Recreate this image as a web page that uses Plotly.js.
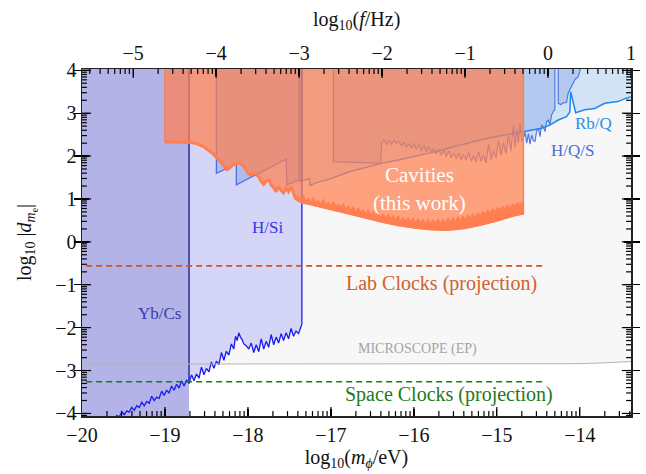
<!DOCTYPE html>
<html><head><meta charset="utf-8">
<script src="https://cdn.plot.ly/plotly-3.0.1.min.js"></script>
<style>html,body{margin:0;padding:0;background:#fff}</style>
</head><body><div id="chart" style="width:646px;height:474px"></div>
<script>
// ---------- axes ----------
const X_MIN = -20, X_MAX = -13.383, Y_MIN = -4.06, Y_MAX = 4.03;
const Y_TOP = 4.4, Y_BOT = -4.4;           // "unbounded" edges of excluded regions
const F_OFFSET = 14.3835;                   // log10(f/Hz) = log10(m/eV) + 14.3835
const xTicks = [-20, -19, -18, -17, -16, -15, -14];
const fTicks = [-5, -4, -3, -2, -1, 0, 1];
const yTicks = [-4, -3, -2, -1, 0, 1, 2, 3, 4];

// ---------- MICROSCOPE (EP) ----------
const msX = [-20, -14.3, -14.0, -13.7, -13.383];
const msY = [-2.85, -2.85, -2.84, -2.82, -2.79];

// ---------- Yb/Cs ----------
const ybcsEdge = -18.71;

// ---------- H/Si ----------
const hsiX = [-19.62,-19.58,-19.55,-19.52,-19.49,-19.46,-19.43,-19.40,-19.37,-19.34,-19.31,-19.28,-19.25,-19.22,-19.19,-19.16,-19.13,-19.10,-19.07,-19.04,-19.01,-18.98,-18.95,-18.92,-18.89,-18.86,-18.83,-18.80,-18.77,-18.74,-18.71,-18.68,-18.65,-18.62,-18.59,-18.56,-18.53,-18.50,-18.47,-18.44,-18.41,-18.38,-18.35,-18.32,-18.29,-18.26,-18.23,-18.20,-18.17,-18.15,-18.13,-18.11,-18.09,-18.07,-18.05,-18.02,-17.99,-17.96,-17.93,-17.90,-17.87,-17.84,-17.81,-17.78,-17.75,-17.72,-17.69,-17.66,-17.63,-17.60,-17.57,-17.54,-17.51,-17.48,-17.45,-17.42,-17.39,-17.36,-17.35];
const hsiY = [-4.12,-4.05,-4.08,-3.96,-4.03,-3.94,-3.97,-3.86,-3.93,-3.82,-3.86,-3.74,-3.82,-3.72,-3.76,-3.60,-3.70,-3.62,-3.65,-3.48,-3.58,-3.46,-3.52,-3.36,-3.46,-3.32,-3.41,-3.24,-3.36,-3.22,-3.30,-3.10,-3.24,-3.08,-3.18,-2.92,-3.10,-2.95,-3.03,-2.80,-2.95,-2.78,-2.86,-2.58,-2.76,-2.55,-2.64,-2.38,-2.50,-2.20,-2.30,-2.12,-2.22,-2.28,-2.38,-2.42,-2.50,-2.36,-2.58,-2.40,-2.56,-2.26,-2.50,-2.32,-2.46,-2.16,-2.40,-2.22,-2.36,-2.14,-2.30,-2.12,-2.26,-2.02,-2.20,-2.08,-2.14,-1.98,-1.92];

// ---------- H/Q/S ----------
const hqsAX = [-18.38,-18.38,-18.14,-18.14,-17.54,-17.53,-17.35,-17.35];
const hqsAY = [Y_TOP, 1.60, 1.82, 1.33, 1.93, 1.33, 1.47, Y_TOP];
const hqsBX = [-16.97,-16.97,-16.40,-16.39,-16.36,-16.33,-16.30,-16.27,-16.24,-16.21,-16.18,-16.15,-16.12,-16.09,-16.06,-16.03,-16.00,-15.97,-15.94,-15.91,-15.88,-15.85,-15.82,-15.79,-15.76,-15.73,-15.70,-15.67,-15.64,-15.61,-15.58,-15.55,-15.52,-15.49,-15.46,-15.43,-15.40,-15.37,-15.34,-15.31,-15.28,-15.25,-15.22,-15.19,-15.16,-15.13,-15.10,-15.07,-15.04,-15.01,-14.98,-14.95,-14.92,-14.89,-14.86,-14.83,-14.80,-14.78,-14.76,-14.74,-14.72,-14.70,-14.68,-14.66,-14.64,-14.62,-14.60,-14.58,-14.56,-14.54,-14.52,-14.50,-14.48,-14.46,-14.44,-14.42,-14.40,-14.38,-14.36,-14.34,-14.32,-14.30,-14.30,-14.26,-14.26,-14.23,-14.20,-14.16,-14.14,-14.10,-14.06,-14.02,-14.00,-13.96];
const hqsBY = [Y_TOP,1.87,1.83,2.30,2.38,2.28,2.36,2.27,2.37,2.30,2.34,2.24,2.32,2.20,2.29,2.18,2.28,2.16,2.27,2.12,2.24,2.10,2.22,2.08,2.18,2.05,2.16,2.02,2.14,1.99,2.12,1.96,2.08,1.94,2.06,1.92,2.04,1.90,2.08,1.88,2.00,1.86,2.10,1.88,2.02,1.84,2.28,1.92,2.12,1.96,2.36,2.02,2.30,2.06,2.48,2.12,2.72,2.20,2.62,2.30,2.76,2.34,2.42,2.55,2.30,2.52,2.28,2.49,2.36,2.34,2.58,2.65,2.45,2.72,2.69,2.57,2.80,2.84,2.73,2.96,3.04,3.08,Y_TOP,Y_TOP,3.23,3.20,3.24,3.25,3.47,3.62,3.78,3.85,3.97,Y_TOP];

// ---------- Rb/Q ----------
const rbqX = [-17.38,-17.38,-17.26,-17.25,-17.19,-16.99,-16.79,-16.55,-16.39,-16.19,-15.99,-15.79,-15.59,-15.39,-15.19,-14.99,-14.79,-14.68,-14.58,-14.46,-14.36,-14.26,-14.16,-14.12,-14.11,-14.05,-13.94,-13.82,-13.70,-13.54,-13.44,-13.383];
const rbqY = [Y_TOP,1.41,1.47,1.31,1.37,1.48,1.63,1.76,1.83,1.91,1.99,2.08,2.18,2.28,2.38,2.46,2.53,2.57,2.60,2.65,2.72,2.84,2.92,3.03,3.50,3.01,3.08,3.11,3.23,3.27,3.35,3.38];

// ---------- Cavities (this work) ----------
const cavX = [-19.00,-18.85,-18.70,-18.64,-18.58,-18.52,-18.46,-18.42,-18.38,-18.34,-18.30,-18.27,-18.25,-18.22,-18.18,-18.14,-18.10,-18.06,-18.03,-18.00,-17.97,-17.93,-17.90,-17.87,-17.84,-17.81,-17.78,-17.75,-17.72,-17.69,-17.66,-17.63,-17.60,-17.57,-17.54,-17.51,-17.48,-17.46,-17.43,-17.40,-17.37,-17.35];
const cavY = [2.33,2.33,2.32,2.30,2.26,2.20,2.12,2.05,1.97,1.88,1.80,1.72,1.68,1.72,1.80,1.83,1.83,1.79,1.70,1.60,1.56,1.60,1.57,1.52,1.41,1.34,1.41,1.45,1.32,1.26,1.17,1.29,1.20,1.14,1.25,1.17,1.29,1.17,1.02,0.98,0.96,0.94];
const cavEdgeRight = -14.68;
const bandLowX = [-17.40,-17.35,-17.19,-16.99,-16.79,-16.59,-16.39,-16.19,-15.99,-15.79,-15.59,-15.39,-15.19,-14.99,-14.79,-14.68];
const bandLowY = [0.96,0.90,0.84,0.75,0.66,0.56,0.46,0.38,0.32,0.28,0.27,0.31,0.39,0.49,0.61,0.65];
const bandTopX = [-17.40,-17.36,-17.33,-17.30,-17.27,-17.24,-17.21,-17.18,-17.15,-17.12,-17.09,-17.06,-17.03,-17.00,-16.97,-16.94,-16.91,-16.88,-16.85,-16.82,-16.79,-16.76,-16.73,-16.70,-16.67,-16.64,-16.61,-16.58,-16.55,-16.52,-16.49,-16.46,-16.43,-16.40,-16.37,-16.34,-16.31,-16.28,-16.25,-16.22,-16.19,-16.16,-16.13,-16.10,-16.07,-16.04,-16.01,-15.98,-15.95,-15.92,-15.89,-15.86,-15.83,-15.80,-15.77,-15.74,-15.71,-15.68,-15.65,-15.62,-15.59,-15.56,-15.53,-15.50,-15.47,-15.44,-15.41,-15.38,-15.35,-15.32,-15.29,-15.26,-15.23,-15.20,-15.17,-15.14,-15.11,-15.08,-15.05,-15.02,-14.99,-14.96,-14.93,-14.90,-14.87,-14.84,-14.81,-14.78,-14.75,-14.72,-14.68];
const bandTopY = [1.06,0.98,1.08,0.95,1.03,0.92,1.05,0.93,0.97,0.89,1.00,0.87,0.93,0.85,0.95,0.83,0.88,0.80,0.90,0.77,0.84,0.75,0.83,0.71,0.80,0.69,0.76,0.66,0.76,0.63,0.71,0.61,0.70,0.58,0.66,0.56,0.65,0.55,0.62,0.52,0.61,0.50,0.58,0.49,0.57,0.47,0.56,0.46,0.55,0.44,0.53,0.43,0.54,0.43,0.52,0.43,0.54,0.44,0.53,0.45,0.56,0.46,0.57,0.48,0.59,0.50,0.61,0.53,0.63,0.56,0.66,0.59,0.69,0.62,0.72,0.65,0.75,0.68,0.78,0.72,0.81,0.75,0.84,0.78,0.87,0.81,0.90,0.84,0.93,0.87,0.95];

// ---------- projections ----------
const projX = [-19.95, -14.43];
const labClockY = -0.56;
const spaceClockY = -3.26;

// ---------- build ----------
const minorOf = (lo, hi) => { const v = []; for (let n = lo; n < hi; n++) for (let k = 2; k <= 9; k++) v.push(n + Math.log10(k)); return v; };
const inX = v => v.filter(x => x > X_MIN && x < X_MAX);
const inY = v => v.filter(y => y > Y_MIN && y < Y_MAX);

const traces = [];
traces.push({x: msX.concat([X_MAX, X_MIN]), y: msY.concat([Y_TOP, Y_TOP]), mode:'lines', fill:'toself', fillcolor:'#f7f7f7', line:{width:0}, hoverinfo:'skip'});
const hsiSel = hsiX.map((x,i)=>[x,hsiY[i]]).filter(p=>p[0] >= ybcsEdge);
traces.push({x: hsiSel.map(p=>p[0]).concat([hsiSel[hsiSel.length-1][0], ybcsEdge]), y: hsiSel.map(p=>p[1]).concat([Y_TOP, Y_TOP]), mode:'lines', fill:'toself', fillcolor:'#d5d5f7', line:{width:0}, hoverinfo:'skip'});
traces.push({x:[X_MIN, ybcsEdge, ybcsEdge, X_MIN], y:[Y_BOT, Y_BOT, Y_TOP, Y_TOP], mode:'lines', fill:'toself', fillcolor:'#b3b3e8', line:{width:0}, hoverinfo:'skip'});
traces.push({x: rbqX.concat([X_MAX+0.1]), y: rbqY.concat([Y_TOP]), mode:'lines', fill:'toself', fillcolor:'rgba(40,140,240,0.18)', line:{width:0}, hoverinfo:'skip'});
traces.push({x: hqsAX, y: hqsAY, mode:'lines', fill:'toself', fillcolor:'rgba(60,100,220,0.24)', line:{color:'#4a70e0', width:1.3}, hoverinfo:'skip'});
traces.push({x: hqsBX, y: hqsBY, mode:'lines', fill:'toself', fillcolor:'rgba(60,100,220,0.2)', line:{color:'#4a72e0', width:1.1}, hoverinfo:'skip'});
traces.push({x: rbqX, y: rbqY, mode:'lines', line:{color:'#1e88f0', width:1.5}, hoverinfo:'skip'});
traces.push({x: hsiX, y: hsiY, mode:'lines', line:{color:'#1a1af2', width:1.3}, hoverinfo:'skip'});
traces.push({x:[hsiX[hsiX.length-1], hsiX[hsiX.length-1]], y:[hsiY[hsiY.length-1], Y_TOP], mode:'lines', line:{color:'#3838ee', width:1.5}, hoverinfo:'skip'});
const ybcsI = hsiX.indexOf(ybcsEdge);
traces.push({x:[ybcsEdge, ybcsEdge], y:[hsiY[ybcsI], Y_TOP], mode:'lines', line:{color:'#2a2a9e', width:1.5}, hoverinfo:'skip'});
traces.push({x: msX, y: msY, mode:'lines', line:{color:'#b4b4b4', width:1}, hoverinfo:'skip'});
const lowAfter = bandLowX.map((x,i)=>[x,bandLowY[i]]).filter(p=>p[0] > cavX[cavX.length-1]);
traces.push({x: [cavX[0]].concat(cavX, lowAfter.map(p=>p[0]), [cavEdgeRight]), y: [Y_TOP].concat(cavY, lowAfter.map(p=>p[1]), [Y_TOP]), mode:'lines', fill:'toself', fillcolor:'rgba(255,127,80,0.72)', line:{color:'#ff7f50', width:1.5}, hoverinfo:'skip'});
traces.push({x: bandTopX.concat(bandLowX.slice().reverse()), y: bandTopY.concat(bandLowY.slice().reverse()), mode:'lines', fill:'toself', fillcolor:'#ff7f50', line:{color:'#ff7f50', width:0.8}, hoverinfo:'skip'});
traces.push({x: cavX, y: cavY, mode:'lines', line:{color:'#ff7f50', width:3}, hoverinfo:'skip'});
traces.push({x: projX, y:[labClockY, labClockY], mode:'lines', line:{color:'#d2541e', width:1.6, dash:'6px,4px'}, hoverinfo:'skip'});
traces.push({x: projX, y:[spaceClockY, spaceClockY], mode:'lines', line:{color:'#1a7a1a', width:1.6, dash:'6px,4px'}, hoverinfo:'skip'});

// inward tick marks, placed on the axes' edges through the axes' own scales
const tickMarks = (xs, ys, symbol, size) => ({x: xs, y: ys, mode:'markers', cliponaxis:true, hoverinfo:'skip',
  marker:{symbol, size, color:'#000', line:{color:'#000', width:1.2}}});
const xMaj = inX(xTicks), xMin = inX(minorOf(-20,-13));
const fMaj = inX(fTicks.map(f => f - F_OFFSET)), fMin = inX(minorOf(-6,1).map(f => f - F_OFFSET));
const yMaj = inY(yTicks), yMin = inY(minorOf(-5,4));
traces.push(tickMarks(xMaj, xMaj.map(()=>Y_MIN), 'line-ns', 13));
traces.push(tickMarks(xMin, xMin.map(()=>Y_MIN), 'line-ns', 7));
traces.push(tickMarks(fMaj, fMaj.map(()=>Y_MAX), 'line-ns', 13));
traces.push(tickMarks(fMin, fMin.map(()=>Y_MAX), 'line-ns', 7));
traces.push(tickMarks(yMaj.map(()=>X_MIN), yMaj, 'line-ew', 13));
traces.push(tickMarks(yMin.map(()=>X_MIN), yMin, 'line-ew', 7));
traces.push(tickMarks(yMaj.map(()=>X_MAX), yMaj, 'line-ew', 13));
traces.push(tickMarks(yMin.map(()=>X_MAX), yMin, 'line-ew', 7));
traces.push({x:[null], y:[null], xaxis:'x2', yaxis:'y', mode:'lines', hoverinfo:'skip'});

const FONT = '"Liberation Serif", "DejaVu Serif", serif';
const TXT = '#111';
const tickFont = {family:FONT, size:20, color:TXT};
const ann = (x, y, text, color, size) => ({x, y, xref:'x', yref:'y', text, showarrow:false, font:{family:FONT, size, color}});

const layout = {
  width:646, height:474, margin:{l:82, r:15, t:69, b:58}, showlegend:false,
  font:{family:FONT, size:20, color:TXT},
  xaxis: {range:[X_MIN, X_MAX], tickmode:'array', tickvals:xTicks, ticks:'inside', ticklen:7, tickwidth:1.3, tickcolor:'#000',
    showline:true, linecolor:'#222', linewidth:1.5, mirror:false, showgrid:false, zeroline:false, tickfont:tickFont,
    title:{text:'log<sub>10</sub>(<i>m</i><sub><i>ϕ</i></sub>/eV)', font:{family:FONT, size:20, color:TXT}, standoff:4}},
  xaxis2: {overlaying:'x', anchor:'y', side:'top', range:[X_MIN+F_OFFSET, X_MAX+F_OFFSET], tick0:0, dtick:1,
    ticks:'inside', ticklen:7, tickwidth:1.3, tickcolor:'#000', showline:true, linecolor:'#222', linewidth:1.5,
    showgrid:false, zeroline:false, tickfont:tickFont},
  yaxis: {range:[Y_MIN, Y_MAX], tickmode:'array', tickvals:yTicks, ticks:'inside', ticklen:7, tickwidth:1.3, tickcolor:'#000',
    showline:true, linecolor:'#222', linewidth:1.5, mirror:'allticks', showgrid:false, zeroline:false, tickfont:tickFont,
    title:{text:'log<sub>10</sub> |<i>d</i><sub><i>m</i><sub>e</sub></sub>|', font:{family:FONT, size:20, color:TXT}, standoff:18}},
  annotations: [
    {x:0.5, y:1.141, xref:'paper', yref:'paper', xanchor:'center', yanchor:'middle', text:'log<sub>10</sub>(<i>f</i>/Hz)', showarrow:false, font:{family:FONT, size:20, color:TXT}},
    ann(-19.06, -1.66, 'Yb/Cs', '#3a3aa8', 17),
    ann(-17.76, 0.33, 'H/Si', '#3535ee', 17),
    ann(-15.93, 1.56, 'Cavities', '#ffffff', 21),
    ann(-15.93, 0.91, '(this work)', '#ffffff', 21),
    ann(-14.09, 2.12, 'H/Q/S', '#4a6ed8', 17),
    ann(-13.84, 2.75, 'Rb/Q', '#2a8ef0', 17),
    ann(-15.67, -0.96, 'Lab Clocks (projection)', '#d0602c', 20),
    ann(-15.96, -2.49, 'MICROSCOPE (EP)', '#a3a3a3', 14),
    ann(-15.58, -3.57, 'Space Clocks (projection)', '#207a20', 20)
  ]
};

Plotly.newPlot('chart', traces, layout, {staticPlot:true, displayModeBar:false});
</script></body></html>
